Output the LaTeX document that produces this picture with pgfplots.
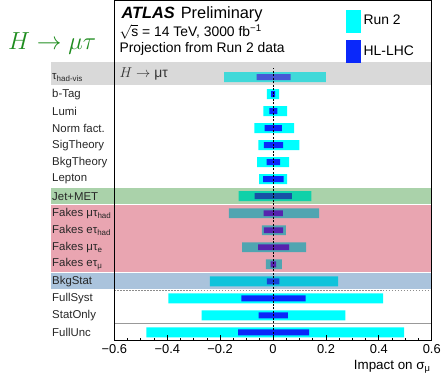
\documentclass[border=0pt]{standalone}
\usepackage{fontspec}
\setmainfont{Liberation Sans}
\usepackage{pgfplots}
\usepackage{pgfplotstable}
\pgfplotsset{compat=1.18}
\definecolor{run2}{RGB}{0,255,255}
\definecolor{hllhc}{RGB}{10,40,250}
\definecolor{titlegreen}{RGB}{30,140,30}
\definecolor{bandgray}{RGB}{160,160,160}
\definecolor{bandgreen}{RGB}{42,142,42}
\definecolor{bandpink}{RGB}{200,30,60}
\definecolor{bandblue}{RGB}{42,105,167}

\pgfplotstableread{
y  lo      hi     blo     bhi
15 -0.185  0.200  -0.062  0.066
14 -0.023  0.023  -0.007  0.008
13 -0.037  0.053  -0.014  0.016
12 -0.071  0.080  -0.032  0.033
11 -0.056  0.099  -0.035  0.038
10 -0.060  0.061  -0.024  0.027
9  -0.053  0.053  -0.038  0.040
8  -0.130  0.145  -0.070  0.071
7  -0.167  0.174  -0.036  0.037
6  -0.042  0.048  -0.035  0.038
5  -0.117  0.125  -0.057  0.061
4  -0.027  0.033  -0.009  0.012
3  -0.239  0.246  -0.023  0.024
2  -0.396  0.416  -0.120  0.123
1  -0.270  0.273  -0.055  0.056
0  -0.479  0.496  -0.132  0.136
}\impacts

\begin{document}
\begin{tikzpicture}
\begin{axis}[
  name=ax,
  scale only axis,
  width=319bp, height=342bp,
  xmin=-0.6, xmax=0.6, ymin=-0.5, ymax=19.5,
  clip=false,
  axis on top,
  axis line style={line width=1.2bp, black},
  xtick={-0.6,-0.4,-0.2,0,0.2,0.4,0.6},
  xticklabels={−0.6,−0.4,−0.2,0,0.2,0.4,0.6},
  minor x tick num=3,
  xtick pos=left,
  xtick align=inside,
  major tick length=6bp, minor tick length=3bp,
  tick style={line width=0.8bp, black},
  ytick={0,...,15},
  yticklabels={FullUnc,StatOnly,FullSyst,BkgStat,
    Fakes eτ\textsubscript{μ},Fakes μτ\textsubscript{e},
    Fakes eτ\textsubscript{had},Fakes μτ\textsubscript{had},
    Jet+MET,Lepton,BkgTheory,SigTheory,Norm fact.,Lumi,b-Tag,
    τ\textsubscript{had-vis}},
  ytick style={draw=none},
  ytick pos=left,
  yticklabel style={anchor=west, xshift=-66bp, font=\fontsize{11.5}{13}\selectfont, text=black!85},
  xticklabel style={font=\fontsize{13}{15}\selectfont},
  xlabel={Impact on σ\textsubscript{μ}},
  xlabel style={at={(rel axis cs:1,0)}, anchor=north east, xshift=-1bp, yshift=-19bp, inner sep=0pt, font=\fontsize{13.5}{15}\selectfont},
  legend style={at={([xshift=233bp,yshift=-9bp]rel axis cs:0,1)}, anchor=north west,
    draw=none, fill=none, inner sep=0pt, row sep=8bp, column sep=2bp,
    font=\fontsize{14}{16}\selectfont, nodes={inner sep=1bp}},
  legend cell align=left,
]
% bars
\addplot[xbar, bar shift=0pt, bar width=10bp, fill=run2, draw=none, forget plot] table[x=lo,y=y]{\impacts};
\addplot[xbar, bar shift=0pt, bar width=10bp, fill=run2, draw=none, forget plot] table[x=hi,y=y]{\impacts};
\addplot[xbar, bar shift=0pt, bar width=6bp, fill=hllhc, draw=none, forget plot] table[x=blo,y=y]{\impacts};
\addplot[xbar, bar shift=0pt, bar width=6bp, fill=hllhc, draw=none, forget plot] table[x=bhi,y=y]{\impacts};
\addlegendimage{legend image code/.code={\fill[run2] (0bp,-11bp) rectangle (14bp,11bp);}}
\addlegendentry{Run 2}
\addlegendimage{legend image code/.code={\fill[hllhc] (0bp,-11bp) rectangle (14bp,11bp);}}
\addlegendentry{HL-LHC}
% group bands
\fill[bandgray, fill opacity=0.4] (axis cs:-0.84,14.54) rectangle (axis cs:0.6,15.88);
\fill[bandgreen, fill opacity=0.4] (axis cs:-0.84,7.53) rectangle (axis cs:0.6,8.47);
\fill[bandpink, fill opacity=0.4] (axis cs:-0.84,3.54) rectangle (axis cs:0.6,7.47);
\fill[bandblue, fill opacity=0.4] (axis cs:-0.84,2.53) rectangle (axis cs:0.6,3.46);
% separators
\draw[black!45, line width=1bp, dash pattern=on 1.5bp off 1.5bp] (axis cs:-0.6,2.47) -- (axis cs:0.6,2.47);
\draw[black!40, line width=1bp] (axis cs:-0.6,0.5) -- (axis cs:0.6,0.5);
\draw[black, line width=0.9bp, dash pattern=on 2bp off 1.5bp] (axis cs:0,-0.5) -- (axis cs:0,15.55);
% texts
\node[anchor=base west, inner sep=0pt, font=\fontsize{16.5}{18}\selectfont] at ([xshift=7bp,yshift=-18bp]rel axis cs:0,1) {\textbf{\textit{ATLAS}}\hspace{6bp}Preliminary};
\node[anchor=base west, inner sep=0pt, font=\fontsize{14}{16}\selectfont] at ([xshift=5bp,yshift=-36bp]rel axis cs:0,1) {$\sqrt{\mbox{s}}$ = 14 TeV, 3000 fb\textsuperscript{−1}};
\node[anchor=base west, inner sep=0pt, font=\fontsize{14}{16}\selectfont] at ([xshift=5bp,yshift=-52bp]rel axis cs:0,1) {Projection from Run 2 data};
\node[anchor=base west, inner sep=0pt, font=\fontsize{14}{16}\selectfont, text=black!80] at ([xshift=5bp,yshift=-77bp]rel axis cs:0,1) {$H \rightarrow$ μτ};
\node[anchor=base west, inner sep=0pt, font=\fontsize{31}{35}\selectfont, text=titlegreen] at ([xshift=-107bp,yshift=-49bp]rel axis cs:0,1) {$H \rightarrow \mu\tau$};
\end{axis}
\path[use as bounding box] ([xshift=-115bp,yshift=-31bp]ax.south west) rectangle ([xshift=329bp,yshift=342bp]ax.south west);
\end{tikzpicture}
\end{document}
